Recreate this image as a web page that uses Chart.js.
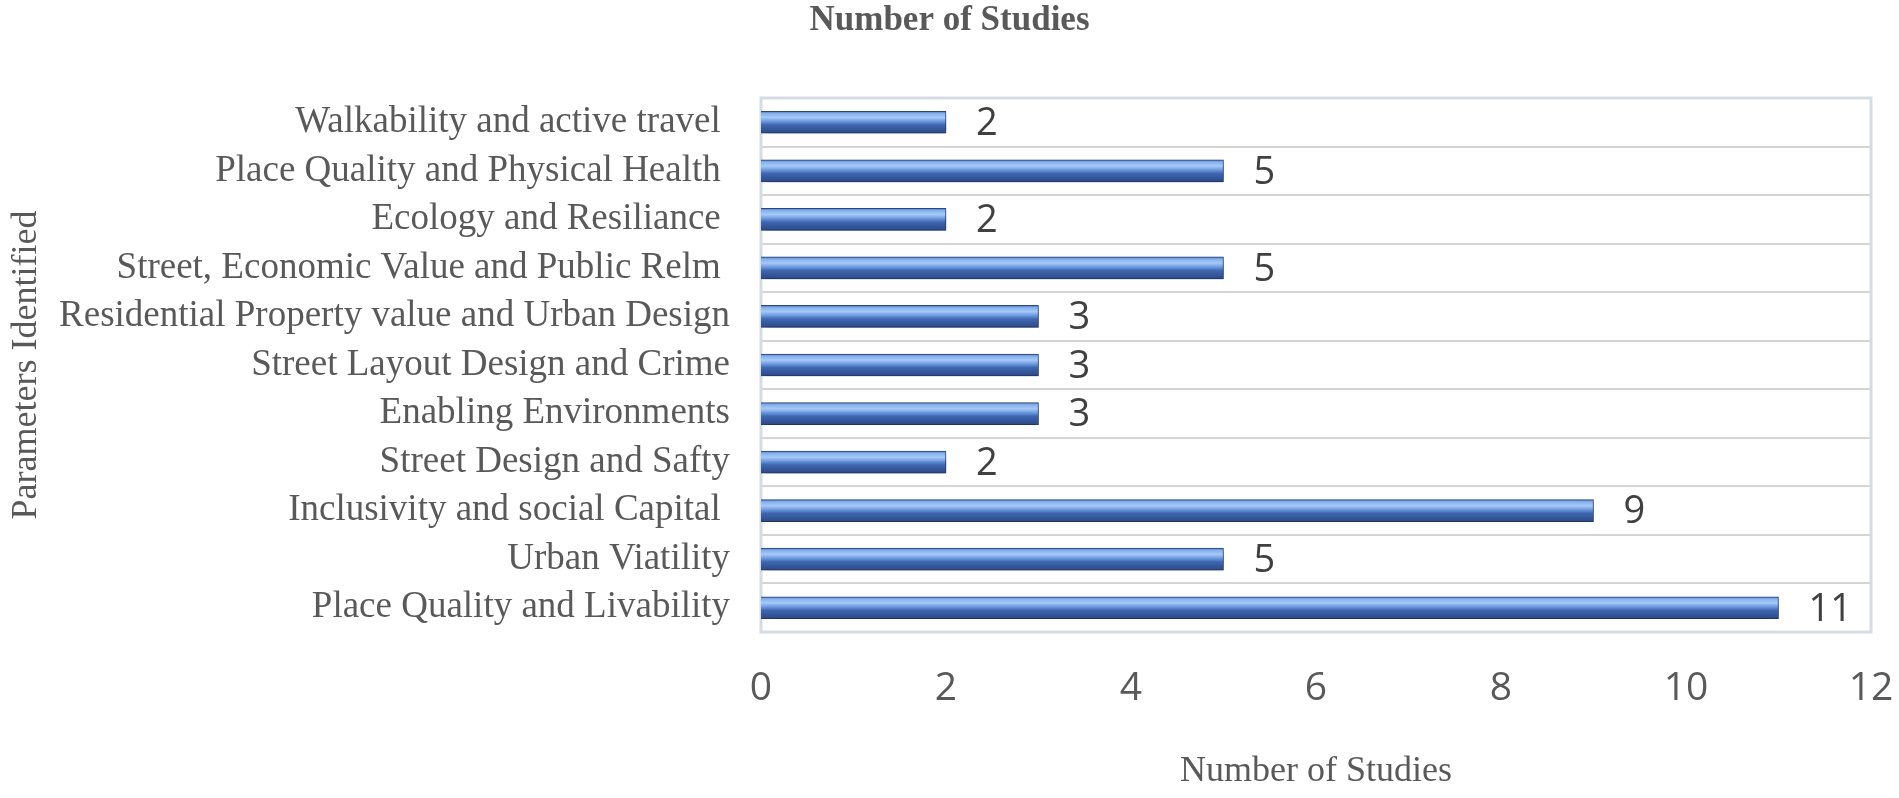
<!DOCTYPE html>
<html>
<head>
<meta charset="utf-8">
<script src="https://cdn.jsdelivr.net/npm/chart.js@4"></script>
<style>
  html, body { margin: 0; padding: 0; background: #fff; }
  #wrap { width: 1899px; height: 798px; }
</style>
</head>
<body>
<div id="wrap"><canvas id="studiesChart"></canvas></div>
<script>
const categories = [
    'Walkability and active travel ',
    'Place Quality and Physical Health ',
    'Ecology and Resiliance ',
    'Street, Economic Value and Public Relm ',
    'Residential Property value and Urban Design',
    'Street Layout Design and Crime',
    'Enabling Environments',
    'Street Design and Safty',
    'Inclusivity and social Capital ',
    'Urban Viatility',
    'Place Quality and Livability'
];
const studyCounts = [2, 5, 2, 5, 3, 3, 3, 2, 9, 5, 11];
const xTicks = [0, 2, 4, 6, 8, 10, 12];

const serif = '"Liberation Serif", "Times New Roman", serif';
const sans = '"Open Sans", "Noto Sans", sans-serif';

function barGradient(context) {
    const chart = context.chart;
    if (!chart.chartArea) return '#4472c4';
    const yc = chart.scales.y.getPixelForValue(context.dataIndex);
    const h = 22;
    const g = chart.ctx.createLinearGradient(0, yc - h / 2, 0, yc + h / 2);
    g.addColorStop(0, '#4a74bd');
    g.addColorStop(0.1, '#86b0ec');
    g.addColorStop(0.28, '#a6caf7');
    g.addColorStop(0.45, '#6f9be2');
    g.addColorStop(0.62, '#3f67b0');
    g.addColorStop(1, '#2a4886');
    return g;
}

const barShadow = {
    id: 'barShadow',
    beforeDatasetsDraw(chart) {
        const ctx = chart.ctx;
        ctx.save();
        ctx.shadowColor = 'rgba(0, 0, 0, 0.35)';
        ctx.shadowBlur = 8;
        ctx.shadowOffsetY = 5;
        ctx.shadowOffsetX = 2;
    },
    afterDatasetsDraw(chart) {
        chart.ctx.restore();
    }
};

const plotBorder = {
    id: 'plotBorder',
    beforeDatasetsDraw(chart) {
        const a = chart.chartArea;
        const ctx = chart.ctx;
        ctx.save();
        ctx.strokeStyle = '#d6dce4';
        ctx.lineWidth = 3;
        ctx.strokeRect(a.left, a.top, a.right - a.left, a.bottom - a.top);
        ctx.restore();
    }
};

const valueLabels = {
    id: 'valueLabels',
    afterDraw(chart) {
        const ctx = chart.ctx;
        const meta = chart.getDatasetMeta(0);
        ctx.save();
        ctx.font = '38px ' + sans;
        ctx.fillStyle = '#404040';
        ctx.textAlign = 'left';
        ctx.textBaseline = 'middle';
        meta.data.forEach((bar, i) => {
            ctx.fillText(String(studyCounts[i]), bar.x + 30, bar.y + 2);
        });
        ctx.restore();
    }
};

new Chart(document.getElementById('studiesChart'), {
    type: 'bar',
    data: {
        labels: categories,
        datasets: [{
            data: studyCounts,
            backgroundColor: barGradient,
            borderColor: '#2b4a87',
            borderWidth: 1,
            borderSkipped: 'left',
            barThickness: 22
        }]
    },
    options: {
        indexAxis: 'y',
        responsive: true,
        maintainAspectRatio: false,
        animation: false,
        layout: { padding: { left: 0, right: 0, top: 0, bottom: 0 } },
        plugins: {
            legend: { display: false },
            tooltip: { enabled: false },
            title: {
                display: true,
                text: 'Number of Studies',
                color: '#595959',
                font: { family: serif, size: 35, weight: 'bold' },
                padding: { top: 0, bottom: 56 }
            }
        },
        scales: {
            x: {
                min: 0,
                max: 12,
                afterBuildTicks(scale) {
                    scale.ticks = xTicks.map(v => ({ value: v }));
                },
                afterFit(scale) {
                    scale.height = 166;
                    scale.paddingLeft = 0;
                    scale.paddingRight = 28;
                },
                grid: { display: false, drawTicks: false },
                border: { display: false },
                ticks: {
                    color: '#595959',
                    font: { family: sans, size: 39 },
                    padding: 33
                },
                title: {
                    display: true,
                    text: 'Number of Studies',
                    color: '#595959',
                    font: { family: serif, size: 36 },
                    padding: { top: 10, bottom: 5 }
                }
            },
            y: {
                afterFit(scale) { scale.width = 761; },
                grid: {
                    offset: true,
                    color: '#d4d4d4',
                    lineWidth: 2,
                    drawTicks: false
                },
                border: { display: false },
                ticks: {
                    color: '#595959',
                    font: { family: serif, size: 37 },
                    padding: 31
                },
                title: {
                    display: true,
                    text: 'Parameters Identified',
                    color: '#595959',
                    font: { family: serif, size: 36 },
                    padding: { top: 5, bottom: 10 }
                }
            }
        }
    },
    plugins: [plotBorder, barShadow, valueLabels]
});
</script>
</body>
</html>
